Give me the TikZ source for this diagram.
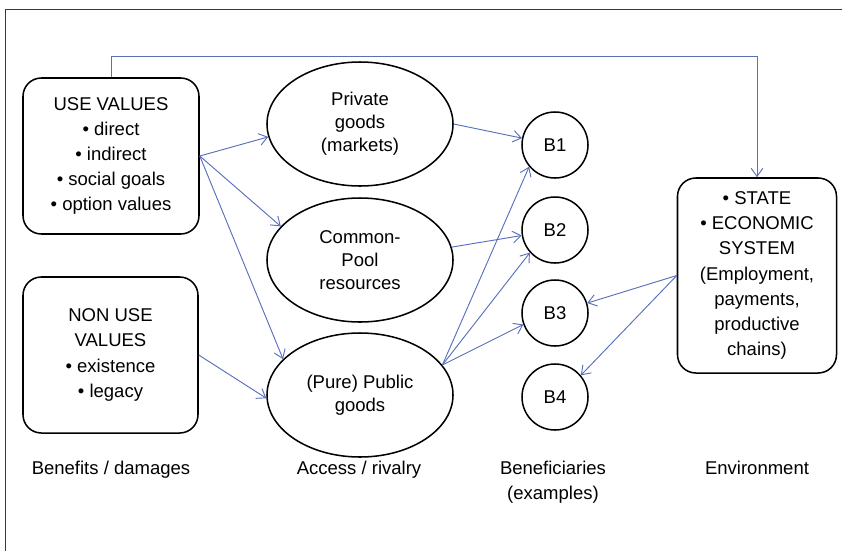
\documentclass[tikz,border=0pt]{standalone}
\usepackage{fontspec}
\setmainfont{Liberation Sans}
\usepackage{xcolor}
\usepackage{tikz}
\usetikzlibrary{shapes.geometric, arrows.meta, positioning}
\definecolor{linkblue}{HTML}{5A70BA}
\definecolor{framegray}{HTML}{3A3A3A}
\newcommand{\boxfont}{\fontsize{15.8}{21.5}\selectfont}
\newcommand{\ovalfont}{\fontsize{15.8}{19.6}\selectfont}

\begin{document}
\begin{tikzpicture}[
  x=0.03cm, y=-0.03cm,
  box/.style={rectangle, rounded corners=0.55cm, draw=black, line width=1.3pt,
              align=center, font=\boxfont, inner sep=0pt},
  oval/.style={ellipse, draw=black, line width=1.3pt, minimum width=5.58cm,
               minimum height=3.72cm, align=center, font=\ovalfont, inner sep=0pt},
  bnode/.style={circle, draw=black, line width=1.3pt, minimum size=1.98cm,
                font=\boxfont, inner sep=0pt},
  arrow/.style={-{Straight Barb[length=7pt,width=10pt]}, line width=0.8pt, color=linkblue},
  colhead/.style={font=\boxfont, align=center, anchor=north},
  frameline/.style={line width=0.8pt, color=framegray},
]

\useasboundingbox (0,0) rectangle (842,551);

% frame of the figure
\draw[frameline] (842,9) -- (5,9) -- (5,551);

% benefits / damages
\node[box, minimum width=5.28cm, minimum height=4.68cm] (use) at (111,156)
  {USE VALUES\\• direct\\• indirect\\• social goals\\• option values};
\node[box, minimum width=5.25cm, minimum height=4.68cm] (nonuse) at (110.5,355)
  {NON USE\\VALUES\\• existence\\• legacy};

% access / rivalry
\node[oval] (priv) at (360,124) {Private\\goods\\(markets)};
\node[oval] (comm) at (360,260) {Common-\\Pool\\resources};
\node[oval] (pub) at (360,395) {(Pure) Public\\goods};

% beneficiaries
\node[bnode] (b1) at (555,145) {B1};
\node[bnode] (b2) at (555,230) {B2};
\node[bnode] (b3) at (555,313) {B3};
\node[bnode] (b4) at (555,397) {B4};

% environment
\node[box, minimum width=4.77cm, minimum height=5.85cm] (env) at (757,275.5)
  {• STATE\\• ECONOMIC\\SYSTEM\\(Employment,\\payments,\\productive\\chains)};

% column headings
\node[colhead] (hbenef) at (111,457) {Benefits / damages};
\node[colhead] (haccess) at (359,457) {Access / rivalry};
\node[colhead] (hbenefic) at (553,457) {Beneficiaries\\(examples)};
\node[colhead] (henv) at (757,457) {Environment};

\coordinate (bend) at (757,56);

\draw[arrow] (use.north) |- (bend) -- (env.north);
\draw[arrow] (use.east) -- (priv.188);
\draw[arrow] (use.east) -- (comm.157);
\draw[arrow] (use.east) -- (pub.155);
\draw[arrow] (nonuse.east) -- (pub.182);
\draw[arrow] (priv.east) -- (b1);
\draw[arrow] (comm.8) -- (b2);
\draw[arrow] (pub.20) -- (b1.220);
\draw[arrow] (pub.20) -- (b2.222);
\draw[arrow] (pub.20) -- (b3.200);
\draw[arrow] (env.west) -- (b3);
\draw[arrow] (env.west) -- (b4.40);

\end{tikzpicture}
\end{document}
